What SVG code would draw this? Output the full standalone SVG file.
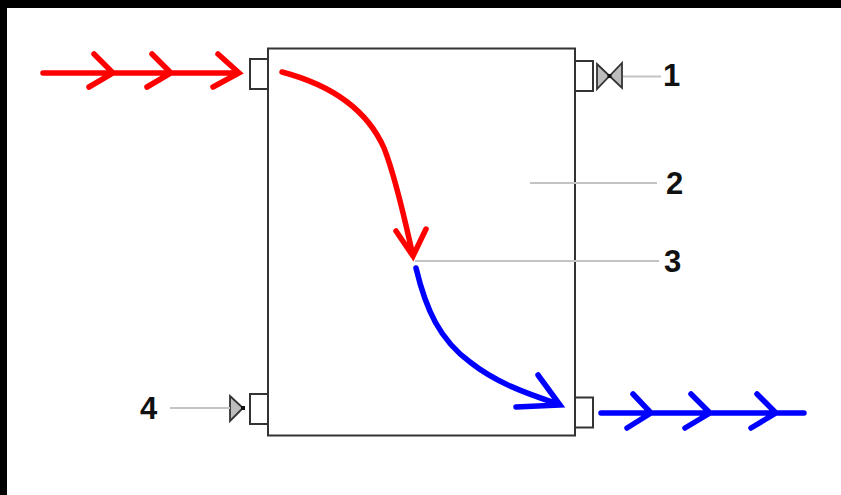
<svg xmlns="http://www.w3.org/2000/svg" width="841" height="495" viewBox="0 0 841 495">
<style>
.box{fill:#fff;stroke:#333;stroke-width:2}
.lead{fill:none;stroke:#c4c4c4;stroke-width:1.8}
.valve{fill:#bdbdbd;stroke:#333;stroke-width:1.8;stroke-linejoin:miter}
.red{fill:none;stroke:#f00;stroke-width:5.500;stroke-linecap:round;stroke-linejoin:miter}
.blue{fill:none;stroke:#00f;stroke-width:5.500;stroke-linecap:round;stroke-linejoin:miter}
.lbl{font-family:"Liberation Sans",Arial,sans-serif;font-size:31px;font-weight:700;fill:#111}
</style>
<rect width="841" height="495" fill="#fff"/>
<path d="M0 0H841V8H7V495H0Z" fill="#000"/>
<g id="vessel"><rect class="box" x="268" y="48.500" width="307" height="387"/></g>
<g id="port-top-left"><rect class="box" x="250" y="59" width="18" height="30"/></g>
<g id="port-top-right"><rect class="box" x="575" y="61" width="18" height="30"/></g>
<g id="port-bottom-left"><rect class="box" x="250" y="394" width="18" height="30"/></g>
<g id="port-bottom-right"><rect class="box" x="575" y="397.500" width="18" height="30"/></g>
<g id="valve-1"><path class="valve" d="M597 64 L622 88 V63 L597 89 Z"/><rect x="607.500" y="74" width="4" height="4" fill="#111"/></g>
<g id="valve-4"><path class="valve" d="M230 396 L243 408 L230 421 Z"/><rect x="241" y="406" width="4" height="4" fill="#111"/></g>
<g id="connectors">
<path class="lead" d="M623 76.500H661"/>
<path class="lead" d="M530 183H657"/>
<path class="lead" d="M415 261H659"/>
<path class="lead" d="M170 408H230"/>
<path class="red" d="M43 73H238M94 54L113 73L89 87M152 54L171 73L147 87M218 54L239 73L213 87"/>
<path class="red" d="M282 72C335 86 368 112 384 148C396 178 406 225 413 256M396 231L413 256L426 229"/>
<path class="blue" d="M416 268C426 310 440 340 470 362C495 382 525 393 558 404M538 375L560 405L516 407"/>
<path class="blue" d="M601 413H804M633 394L651 413L627 428M691 394L710 413L685 428M757 394L776 413L751 428"/>
</g>
<g id="label-1"><text class="lbl" x="663" y="86">1</text></g>
<g id="label-2"><text class="lbl" x="666" y="194">2</text></g>
<g id="label-3"><text class="lbl" x="664" y="272">3</text></g>
<g id="label-4"><text class="lbl" x="140" y="419">4</text></g>
</svg>
